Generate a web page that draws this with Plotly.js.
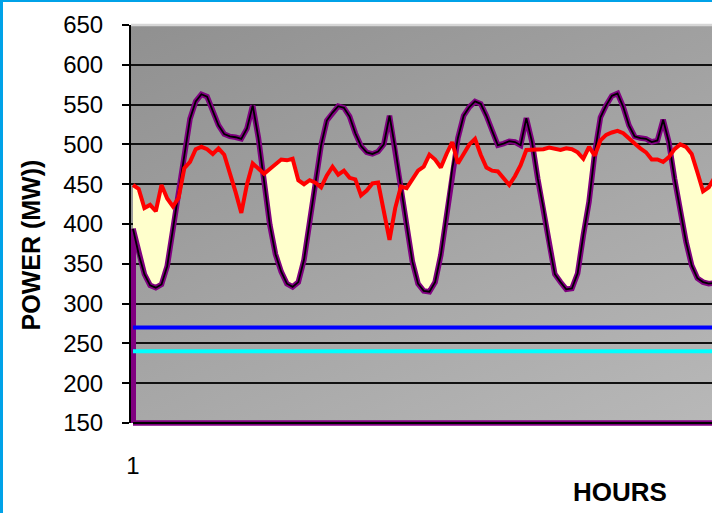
<!DOCTYPE html>
<html>
<head>
<meta charset="utf-8">
<script src="https://cdn.plot.ly/plotly-3.0.1.min.js"></script>
<style>
  html, body { margin: 0; padding: 0; background: #ffffff; overflow: hidden; width: 712px; height: 513px; }
  #chart { position: absolute; left: 0; top: 0; }
  .frame-left { position: absolute; left: 0; top: 0; width: 3px; height: 513px; background: #00a2e8; z-index: 5; }
  .frame-top { position: absolute; left: 0; top: 0; width: 712px; height: 2px; background: #00a2e8; z-index: 5; }
</style>
</head>
<body>
<div class="frame-left"></div>
<div class="frame-top"></div>
<div id="chart"></div>
<script>
// Hourly system demand (MW), purple curve
const demand = [
  394, 362, 337, 323, 320, 324, 347, 393, 441, 487, 532, 554, 563, 560, 543, 524, 513, 510, 509, 507, 520, 549, 508, 453,
  399, 362, 340, 325, 321, 327, 355, 403, 449, 499, 530, 540, 548, 546, 535, 514, 498, 490, 488, 491, 500, 536, 495, 445,
  399, 353, 325, 316, 315, 327, 361, 411, 470, 508, 536, 547, 554, 551, 536, 517, 499, 501, 504, 503, 499, 533, 503, 457,
  420, 374, 337, 327, 318, 319, 338, 386, 428, 489, 534, 549, 561, 564, 547, 524, 510, 508, 507, 503, 505, 531, 503, 457,
  415, 378, 348, 332, 327, 325, 326, 332
];

// Hourly generation (MW), red curve
const generation = [
  449, 444, 420, 424, 416, 449, 432, 422, 433, 470, 478, 494, 497, 494, 488, 495, 487, 465, 440, 414, 450, 476, 470, 463,
  469, 475, 481, 480, 482, 455, 450, 455, 452, 446, 461, 472, 462, 467, 458, 456, 436, 442, 451, 452, 418, 380, 420, 447,
  445, 455, 467, 472, 487, 481, 471, 488, 503, 476, 487, 500, 507, 487, 471, 467, 466, 458, 449, 460, 474, 493, 493, 493,
  494, 496, 495, 493, 495, 494, 490, 482, 497, 486, 505, 512, 515, 517, 514, 507, 501, 495, 490, 481, 481, 478, 484, 494,
  500, 497, 488, 465, 441, 446, 458, 462
];

// Constant reference levels (MW)
const upperLimit = 270;
const lowerLimit = 240;

const hours = demand.map((_, i) => i + 1);
const weekHours = 168;

const yTicks = [150, 200, 250, 300, 350, 400, 450, 500, 550, 600, 650];
const xTickVals = [1];
const xTickText = ['1'];

const FONT = 'Liberation Sans, Arial, sans-serif';
const PURPLE = '#800080';

// Surplus band: between demand and generation wherever generation is above demand.
// Crossing points are added so the band closes exactly where the curves meet.
const bandX = [], bandLo = [], bandHi = [];
for (let i = 0; i < hours.length; i++) {
  bandX.push(hours[i]);
  bandLo.push(demand[i]);
  bandHi.push(Math.max(demand[i], generation[i]));
  if (i < hours.length - 1) {
    const d0 = generation[i] - demand[i];
    const d1 = generation[i + 1] - demand[i + 1];
    if (d0 * d1 < 0) {
      const t = d0 / (d0 - d1);
      const yc = demand[i] + t * (demand[i + 1] - demand[i]);
      bandX.push(hours[i] + t);
      bandLo.push(yc);
      bandHi.push(yc);
    }
  }
}

const first = hours[0];
const last = hours[hours.length - 1];

const traces = [
  { x: bandX, y: bandLo, mode: 'lines', line: { width: 0 }, hoverinfo: 'skip', showlegend: false },
  { x: bandX, y: bandHi, mode: 'lines', line: { width: 0 }, fill: 'tonexty', fillcolor: '#ffffcc', hoverinfo: 'skip', showlegend: false },
  { x: hours, y: demand, mode: 'lines', line: { color: PURPLE, width: 5.5 }, showlegend: false },
  { x: hours, y: demand, mode: 'lines', line: { color: '#000000', width: 1.8 }, showlegend: false },
  { x: hours, y: generation, mode: 'lines', line: { color: '#ff0000', width: 4 }, showlegend: false },
  { x: [first, weekHours], y: [upperLimit, upperLimit], mode: 'lines', line: { color: '#0000ff', width: 4 }, showlegend: false },
  { x: [first, weekHours], y: [lowerLimit, lowerLimit], mode: 'lines', line: { color: '#00ffff', width: 4 }, showlegend: false }
];

// Grey backdrop shading for the plot area
const bgSvg =
  '<svg xmlns="http://www.w3.org/2000/svg" width="954" height="398" viewBox="0 0 954 398" preserveAspectRatio="none">' +
  '<defs><linearGradient id="g" gradientUnits="userSpaceOnUse" x1="0" y1="0" x2="380" y2="824">' +
  '<stop offset="0" stop-color="#909090"/><stop offset="1" stop-color="#cccccc"/></linearGradient></defs>' +
  '<rect width="954" height="398" fill="url(#g)"/></svg>';
const bgUri = 'data:image/svg+xml;charset=utf-8,' + encodeURIComponent(bgSvg);

const layout = {
  width: 1100,
  height: 513,
  margin: { l: 131, r: 15, t: 25, b: 90 },
  paper_bgcolor: '#ffffff',
  plot_bgcolor: 'rgba(0,0,0,0)',
  showlegend: false,
  images: [{
    source: bgUri, xref: 'paper', yref: 'paper', x: 0, y: 1, sizex: 1, sizey: 1,
    xanchor: 'left', yanchor: 'top', sizing: 'stretch', layer: 'below'
  }],
  xaxis: {
    range: [0.65, weekHours],
    tickvals: xTickVals,
    ticktext: xTickText,
    ticks: '',
    showgrid: false,
    zeroline: false,
    showline: false,
    ticklabelstandoff: 26,
    tickfont: { family: FONT, size: 24, color: '#000000' }
  },
  yaxis: {
    range: [150, 650],
    tickvals: yTicks,
    ticks: 'outside',
    ticklen: 7,
    tickwidth: 2,
    tickcolor: '#000000',
    showline: true,
    linecolor: '#000000',
    linewidth: 2,
    showgrid: true,
    gridcolor: '#111111',
    gridwidth: 2,
    zeroline: false,
    ticklabelstandoff: 14,
    tickfont: { family: FONT, size: 24, color: '#000000' }
  },
  shapes: [
    // light top edge of the plot area
    { type: 'line', xref: 'paper', yref: 'paper', x0: 0, x1: 1, y0: 1, y1: 1, line: { color: '#d6d6d6', width: 2.5 }, layer: 'above' },
    // left edge of the demand area
    { type: 'line', xref: 'x', yref: 'y', x0: first, x1: first, y0: 150, y1: demand[0], line: { color: PURPLE, width: 6 }, layer: 'between' },
    // bottom edge of the demand area
    { type: 'line', xref: 'x', yref: 'paper', x0: first, x1: last, y0: 0, y1: 0, line: { color: PURPLE, width: 5.5 }, layer: 'above' },
    { type: 'line', xref: 'x', yref: 'paper', x0: first, x1: last, y0: 0, y1: 0, line: { color: '#000000', width: 1.8 }, layer: 'above' }
  ],
  annotations: [
    {
      text: '<b>HOURS</b>', xref: 'paper', yref: 'paper', x: 0.5126, y: 0, yshift: -69,
      xanchor: 'center', yanchor: 'middle', showarrow: false,
      font: { family: FONT, size: 26, color: '#000000' }
    },
    {
      text: '<b>POWER (MW))</b>', xref: 'paper', yref: 'paper', x: 0, xshift: -100, y: 0.446,
      xanchor: 'center', yanchor: 'middle', textangle: -90, showarrow: false,
      font: { family: FONT, size: 25, color: '#000000' }
    }
  ]
};

Plotly.newPlot('chart', traces, layout, { staticPlot: true, displayModeBar: false });
</script>
</body>
</html>
